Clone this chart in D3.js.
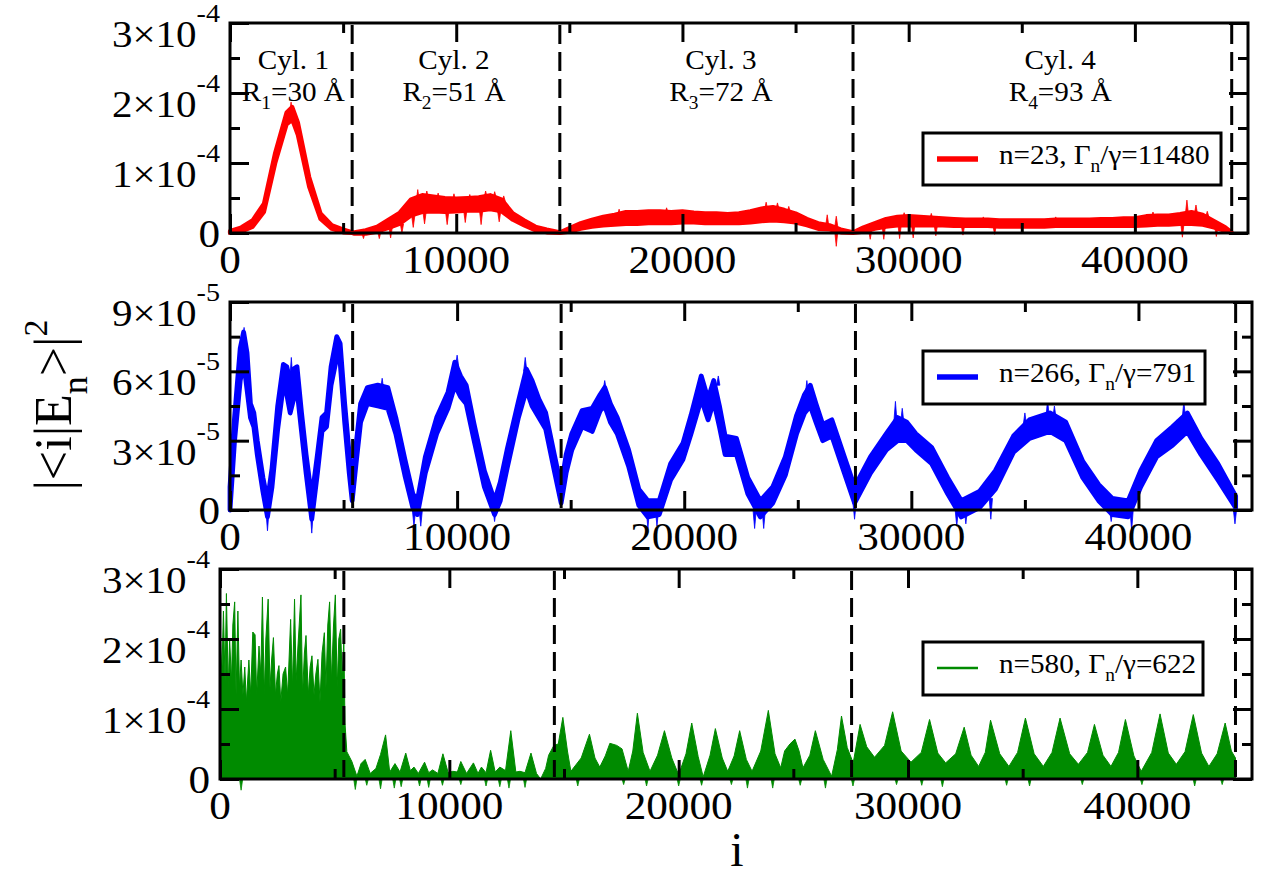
<!DOCTYPE html>
<html><head><meta charset="utf-8">
<script src="https://cdn.jsdelivr.net/npm/d3@7"></script>
<style>
body{margin:0;background:#fff;}
svg text{font-family:"Liberation Serif","Times New Roman",serif;fill:#000;}
</style></head><body>
<svg id="chart" width="1268" height="878" font-family="Liberation Serif"></svg>
<script>
// ================= DATA (all probabilities in units of 1e-5) =================
const cylinderBounds = [5400, 14580, 27540, 44280];
const cylinderNames  = ["Cyl. 1", "Cyl. 2", "Cyl. 3", "Cyl. 4"];
const cylinderIndex  = ["1", "2", "3", "4"];
const cylinderRadii  = ["30", "51", "72", "93"];
const cylinderLabelX = [2800, 9900, 21700, 36700];

const xTicks      = [0, 10000, 20000, 30000, 40000];
const xMinorTicks = [5000, 15000, 25000, 35000];

const yTicksA      = [0, 10, 20, 30];
const yMinorA      = [5, 15, 25];
const yMantA       = ["0", "1×10", "2×10", "3×10"];
const yExpA        = ["", "-4", "-4", "-4"];
const yTicksB      = [0, 3, 6, 9];
const yMinorB      = [1.5, 4.5, 7.5];
const yMantB       = ["0", "3×10", "6×10", "9×10"];
const yExpB        = ["", "-5", "-5", "-5"];

const legendN      = ["n=23", "n=266", "n=580"];
const legendRatio  = ["11480", "791", "622"];

// --- n=23 (red): band lower/upper edges ---
const redX = [0,500,1000,1500,2000,2500,2750,3000,3500,4000,4500,5000,5400,
  5500,6000,6500,7000,7500,8000,8500,9000,9500,10000,10500,11000,11500,12000,12500,13000,13500,14000,14580,
  15000,15500,16000,16500,17000,17500,18000,18500,19000,19500,20000,20500,21000,21500,22000,22500,23000,23500,24000,24500,25000,25500,26000,26500,27000,27540,
  28000,28500,29000,29500,30000,30500,31000,31500,32000,32500,33000,33500,34000,34500,35000,35500,36000,36500,37000,37500,38000,38500,39000,39500,40000,40500,41000,41500,42000,42500,43000,43500,44000,44280];
const redHi = [0.3,0.8,1.8,4.2,11.5,17.2,18.0,15.8,8.0,2.8,1.1,0.5,0.1,
  0.1,0.4,0.9,1.9,2.9,4.8,5.4,5.2,5.0,4.9,5.0,5.1,5.4,4.8,2.8,1.8,0.9,0.5,0.1,
  0.7,1.4,1.9,2.3,2.6,3.0,3.0,3.1,3.1,3.0,3.1,2.9,2.8,2.8,2.7,2.8,3.1,3.5,3.7,3.3,2.8,2.0,1.4,1.1,0.5,0.1,
  0.8,1.4,2.0,2.3,2.4,2.3,2.2,2.1,2.0,1.9,1.9,1.9,1.8,1.8,1.8,1.8,1.8,1.9,1.9,1.9,1.9,2.0,2.0,2.1,2.1,2.4,2.5,2.5,2.7,3.0,2.6,1.7,0.8,0.1];
const redLo = [0,0.2,0.9,3.0,10.0,15.5,16.2,14.0,6.6,2.0,0.6,0.1,0,
  -0.1,-0.1,0.2,0.7,1.3,2.5,3.0,3.1,3.0,3.1,3.2,3.2,3.4,3.1,1.9,1.1,0.4,0.1,0,
  0.2,0.6,0.9,1.1,1.2,1.3,1.3,1.4,1.4,1.4,1.5,1.5,1.4,1.4,1.4,1.4,1.5,1.7,1.8,1.7,1.5,1.1,0.6,0.5,0.1,0,
  0.2,0.6,0.9,1.1,1.1,1.1,1.1,1.1,1.0,1.0,1.0,1.0,0.9,0.9,0.9,0.9,0.9,1.0,1.0,1.0,1.0,1.0,1.0,1.0,1.0,1.1,1.2,1.2,1.3,1.3,1.2,0.8,0.3,0];
// [x, base, tip]
const redSpikes = [[2700,17,18.7],[8300,4.5,6.2],[8700,5,6.0],[9200,4.8,5.7],[9900,4.6,5.6],[10600,4.7,5.5],
  [11300,5,6.0],[11700,5,5.9],[12100,4.5,5.3],[17200,2.5,3.4],[19300,2.8,3.6],[23700,3.3,4.4],[24200,3.4,4.3],
  [24700,3.0,3.8],[26400,1.0,2.6],[26800,0.8,2.4],[29800,2.1,2.9],[31000,2.0,2.8],[33300,1.7,2.3],[36500,1.7,2.3],
  [40800,2.2,3.0],[42300,2.6,4.7],[42700,2.7,4.0],[43200,2.3,3.1],
  [5900,0,-0.8],[6600,0.2,-0.8],[7100,0.7,-0.7],[7600,1.3,0.0],[8100,2.5,0.8],[8600,3.0,1.3],[9600,3.0,1.2],
  [10400,3.2,1.5],[11100,3.2,1.2],[11900,3.1,1.6],[26800,0.3,-1.9],[28300,0.4,-0.9],[28900,0.9,-0.9],[29600,1.1,-0.8],
  [30200,1.1,-0.7],[31200,1.1,-0.4],[32400,1.0,-0.3],[33800,1.0,-0.2],[42100,1.3,-0.6],[43600,0.8,-0.5]];

// --- n=266 (blue) ---
const blueX = [0,200,450,600,750,900,1050,1200,1450,1650,1850,2100,2350,2500,2650,2800,2950,3150,3350,3600,
  3850,4050,4250,4450,4700,4850,5050,5250,5380,5550,5750,6050,6500,6950,7300,7700,8050,8250,8600,9100,
  9600,9900,10150,10400,10750,11200,11650,11900,12200,12700,13050,13300,13600,13900,14300,14580,14800,15050,15500,15950,
  16300,16500,16750,17050,17550,18000,18400,18900,19400,19950,20300,20750,21050,21300,21550,21800,22300,22800,23350,23900,
  24450,24950,25300,25550,25800,26100,26500,27050,27500,28200,28900,29400,29800,30200,30900,31600,32200,33000,33700,34500,
  35200,36100,36800,37550,38250,38850,39550,40100,40800,41500,42150,42750,43500,44280];
const blueLo = [0.0,3.0,5.6,6.4,5.2,4.0,3.6,2.4,0.8,-0.3,1.0,3.5,5.4,5.0,4.2,4.8,5.2,3.4,1.6,-0.4,
  1.6,3.4,3.6,5.4,6.6,6.4,3.8,1.6,0.4,2.0,3.8,4.6,4.5,4.4,3.3,1.5,0.1,-0.2,1.6,3.3,
  4.4,5.4,4.9,4.6,3.0,1.0,-0.2,0.4,1.8,4.0,5.2,4.5,4.0,3.5,1.6,0.3,1.6,2.6,3.6,3.4,
  4.3,4.5,3.8,3.3,1.9,0.2,-0.3,-0.2,1.3,2.2,3.3,4.8,3.9,4.7,3.6,2.4,2.4,0.7,-0.3,0.3,
  1.5,3.3,4.2,4.5,3.8,3.0,3.2,1.6,0.3,1.6,2.6,3.0,3.0,2.6,2.0,0.7,-0.3,0.1,0.9,2.5,
  3.1,3.4,3.0,1.4,0.4,-0.2,-0.3,1.0,2.3,2.8,3.4,2.4,1.3,0.1];
const blueHi = [1.0,4.0,7.0,7.7,6.8,4.6,4.2,3.0,1.4,0.4,1.8,4.5,6.3,6.2,5.6,6.1,6.2,4.2,2.4,0.5,
  2.4,4.0,4.2,6.2,7.5,7.2,4.6,2.4,1.2,2.8,4.6,5.3,5.4,5.3,4.0,2.2,0.7,0.4,2.3,4.0,
  5.1,6.4,5.8,5.4,3.7,1.7,0.4,1.2,2.6,4.7,6.1,5.6,4.8,4.2,2.3,1.0,2.4,3.3,4.3,4.4,
  5.0,5.3,4.6,4.0,2.6,0.9,0.4,0.4,2.0,2.9,4.1,5.8,4.8,5.6,4.5,3.2,3.1,1.4,0.4,1.0,
  2.3,4.1,5.0,5.4,4.6,3.7,3.9,2.3,1.0,2.3,3.3,4.0,3.8,3.3,2.7,1.4,0.4,0.8,1.7,3.2,
  3.9,4.2,3.8,2.1,1.1,0.5,0.4,1.7,3.0,3.6,4.2,3.1,2.0,0.6];
const blueSpikes = [[620,7,7.9],[2700,5.6,6.6],[10000,6.2,6.7],[13000,6.0,6.6],[16500,5.2,5.6],[20000,2.9,3.3],
  [21500,5.4,5.8],[29300,3.8,4.7],[29600,3.8,4.4],[36000,4.0,4.8],[36300,4.0,4.5],[42000,4.0,4.7],
  [6700,5.2,5.7],[25400,5.0,5.6],[33900,1.5,2.0],[35000,3.7,4.2],[41700,3.4,3.9],
  [1650,0,-0.9],[3600,0,-1.0],[8100,0,-0.7],[8400,0,-0.7],[11650,0,-0.5],[18400,0,-0.8],[18800,0,-0.7],
  [23100,0,-0.8],[23500,0,-0.8],[27500,0.3,-0.4],[32000,0,-0.7],[32400,0,-0.6],[33500,0.5,-0.4],
  [38800,0,-0.5],[39700,0,-0.9],[44250,0,-0.6]];

// --- n=580 (green): upper envelope [x, value] ---
const greenPoints = [[0,22],[80,15],[150,24],[220,14],[280,26.5],[360,13],[420,20],[500,14],[560,22],[640,25.3],
  [700,12],[780,24],[850,13],[920,17],[1000,12],[1080,16],[1150,11],[1260,17],[1340,12],[1430,21],[1530,20.6],
  [1600,12],[1700,19],[1780,15],[1850,26],[1930,12],[2000,20],[2100,25.7],[2180,13],[2250,17],[2330,20.2],
  [2420,12],[2500,15],[2570,16.2],[2650,11],[2750,15],[2860,16],[2950,12],[3080,22.8],[3160,13],[3250,25.7],
  [3320,14],[3400,19],[3530,26.3],[3600,12],[3680,18],[3750,20.5],[3850,12],[3930,16],[4010,17.6],[4100,12],
  [4180,15],[4270,17.1],[4360,11],[4450,18],[4550,20.9],[4620,13],[4700,22],[4780,25.3],[4860,14],[4950,22],
  [5030,26.3],[5110,13],[5180,20],[5260,21.4],[5330,14],[5400,20],[5450,8],[5530,3.9],[5750,2.5],[5970,0.4],
  [6150,2.2],[6330,2.8],[6550,0.8],[6800,1.5],[7000,3.5],[7220,6.3],[7400,1.0],[7630,2.2],[7850,1.0],[8100,3.7],
  [8300,1.2],[8460,1.7],[8650,0.8],[8920,2.4],[9100,0.9],[9270,1.3],[9500,0.8],[9720,3.6],[9950,0.9],[10150,1.1],
  [10350,1.0],[10500,2.5],[10750,0.8],[11050,2.3],[11250,0.8],[11400,1.7],[11600,0.9],[11800,4.1],[12000,1.0],
  [12200,1.7],[12450,1.2],[12680,6.9],[12900,1.0],[13080,1.1],[13300,0.9],[13560,3.7],[13800,0.8],[13980,0],
  [14200,1.5],[14330,3.4],[14560,4.8],[14750,5.0],[14950,8.8],[15150,4.0],[15300,1.1],[15750,3.0],[16110,6.4],
  [16350,3.0],[16560,1.7],[16800,3.3],[17000,5.1],[17300,4.8],[17530,4.3],[17800,1.1],[18000,4.0],[18200,9.4],
  [18450,3.8],[18750,1.1],[19080,3.4],[19380,6.9],[19700,3.0],[20000,0.6],[20320,3.6],[20570,8.0],[20850,3.2],
  [21070,0.3],[21370,3.4],[21600,7.2],[21900,3.0],[22140,1.1],[22420,3.3],[22660,6.9],[22950,2.8],[23200,1.1],
  [23580,4.0],[23910,9.8],[24200,3.6],[24450,1.6],[24620,4.0],[24850,5.0],[25070,5.7],[25250,4.0],[25420,1.6],
  [25720,3.4],[25960,6.9],[26300,2.8],[26670,0.4],[26920,4.2],[27100,9.0],[27350,4.5],[27610,2.3],[27910,7.8],
  [28200,4.6],[28540,3.1],[28980,4.8],[29330,9.6],[29700,4.0],[30130,2.4],[30580,3.8],[30940,8.5],[31300,3.7],
  [31640,2.3],[32080,3.6],[32450,7.4],[32750,3.4],[33080,1.8],[33370,3.8],[33600,8.4],[34000,3.6],[34400,1.8],
  [34780,3.8],[35120,8.7],[35500,3.6],[35900,1.8],[36280,3.8],[36630,8.7],[37050,3.6],[37430,2.1],[37830,3.8],
  [38130,7.8],[38500,3.4],[38850,1.8],[39180,3.8],[39480,8.5],[39850,3.3],[40170,1.1],[40630,3.8],[40990,9.3],
  [41350,3.7],[41700,2.1],[42080,3.9],[42440,9.2],[42800,3.7],[43120,1.8],[43480,3.6],[43830,8.0],[44100,4.0],
  [44280,3.0]];
// downward excursions below zero [x, value]
const greenDips = [[920,-1.6],[5900,-1.5],[6400,-0.9],[7000,-1.4],[7600,-1.3],[7900,-1.1],[8700,-1.0],[9100,-1.2],
  [9700,-0.9],[10500,-0.8],[11600,-1.0],[12200,-1.1],[12600,-1.3],[13300,-1.2],[15600,-1.0],[17600,-0.8],
  [18600,-1.0],[20000,-1.0],[21000,-0.9],[22300,-0.8],[23000,-1.3],[24100,-1.3],[25300,-0.9],[26400,-1.3],
  [27600,-1.0],[29500,-0.8],[30600,-0.9],[31500,-1.1],[34300,-0.9],[35300,-1.0],[37600,-0.8],[40200,-0.8],
  [42500,-1.0],[43700,-0.8]];

// ================= LAYOUT / STYLE =================
const RED = "#ff0000", BLUE = "#0000ff", GREEN = "#008b00";
const STRETCH = 1.08;   // reference glyphs are slightly wider than Liberation Serif
const panels = [
  {left:230, right:1248, top:23,  bottom:233, ymax:30, yt:yTicksA, ym:yMinorA, mant:yMantA, exp:yExpA,
   legend:{x:923, y:133, w:298, h:52}, color:RED,   lw:5.5},
  {left:230, right:1252, top:302, bottom:510, ymax:9,  yt:yTicksB, ym:yMinorB, mant:yMantB, exp:yExpB,
   legend:{x:923, y:351, w:282, h:53}, color:BLUE,  lw:5.5},
  {left:220, right:1252, top:569, bottom:779, ymax:30, yt:yTicksA, ym:yMinorA, mant:yMantA, exp:yExpA,
   legend:{x:923, y:642, w:280, h:53}, color:GREEN, lw:2.5}
];

const svg = d3.select("#chart");
svg.append("rect").attr("width",1268).attr("height",878).attr("fill","#fff");

// text with slight horizontal stretch, anchored at (x,y)
function stext(g, x, y, size, anchor){
  return g.append("text").attr("transform",`translate(${x},${y}) scale(${STRETCH},1)`)
    .attr("font-size", size).attr("text-anchor", anchor || "start");
}

function band(g, x, y, X, LO, HI, color, sw){
  const pts = X.map((v,i)=>({x:v, lo:LO[i], hi:HI[i]}));
  g.append("path").datum(pts)
    .attr("d", d3.area().x(d=>x(d.x)).y0(d=>y(d.lo)).y1(d=>y(d.hi)))
    .attr("fill", color).attr("stroke", color).attr("stroke-width", sw).attr("stroke-linejoin","round");
}
function spikes(g, x, y, S, color){
  g.append("g").selectAll("path").data(S).join("path")
    .attr("d", s=>`M${x(s[0])-1.6},${y(s[1])}L${x(s[0])},${y(s[2])}L${x(s[0])+1.6},${y(s[1])}Z`)
    .attr("fill", color).attr("stroke", color).attr("stroke-width", 0.8);
}

const dataDrawers = [
  (g,x,y)=>{ band(g,x,y,redX,redLo,redHi,RED,4.2); spikes(g,x,y,redSpikes,RED); },
  (g,x,y)=>{ band(g,x,y,blueX,blueLo,blueHi,BLUE,4.8); spikes(g,x,y,blueSpikes,BLUE); },
  (g,x,y)=>{
    g.append("path").datum(greenPoints)
      .attr("d", d3.area().x(d=>x(d[0])).y0(y(0)).y1(d=>y(d[1])))
      .attr("fill", GREEN).attr("stroke", GREEN).attr("stroke-width", 1);
    spikes(g,x,y,greenDips.map(d=>[d[0],0,d[1]]),GREEN);
  }
];

panels.forEach((p, pi)=>{
  const x = d3.scaleLinear().domain([0,45000]).range([p.left,p.right]);
  const y = d3.scaleLinear().domain([0,p.ymax]).range([p.bottom,p.top]);
  const g = svg.append("g");

  dataDrawers[pi](g,x,y);

  // frame
  g.append("rect").attr("x",p.left).attr("y",p.top)
    .attr("width",p.right-p.left).attr("height",p.bottom-p.top)
    .attr("fill","none").attr("stroke","#000").attr("stroke-width",3);

  // ticks on all four sides (inward)
  const styleAxis = a => { a.select(".domain").remove(); a.selectAll("line").attr("stroke","#000").attr("stroke-width",3); a.selectAll("text").remove(); };
  const axes = [
    [d3.axisBottom(x).tickValues(xTicks).tickSize(-19), `translate(0,${p.bottom})`],
    [d3.axisBottom(x).tickValues(xMinorTicks).tickSize(-10), `translate(0,${p.bottom})`],
    [d3.axisTop(x).tickValues(xTicks).tickSize(-19), `translate(0,${p.top})`],
    [d3.axisTop(x).tickValues(xMinorTicks).tickSize(-10), `translate(0,${p.top})`],
    [d3.axisLeft(y).tickValues(p.yt).tickSize(-19), `translate(${p.left},0)`],
    [d3.axisLeft(y).tickValues(p.ym).tickSize(-10), `translate(${p.left},0)`],
    [d3.axisRight(y).tickValues(p.yt).tickSize(-19), `translate(${p.right},0)`],
    [d3.axisRight(y).tickValues(p.ym).tickSize(-10), `translate(${p.right},0)`]
  ];
  axes.forEach(([ax,tr])=> g.append("g").attr("transform",tr).call(ax).call(styleAxis));

  // dashed cylinder boundaries
  g.selectAll("line.dash").data(cylinderBounds).join("line").attr("class","dash")
    .attr("x1",d=>x(d)).attr("x2",d=>x(d)).attr("y1",p.top+2).attr("y2",p.bottom-2)
    .attr("stroke","#000").attr("stroke-width",3).attr("stroke-dasharray","19,8");

  // x tick labels
  xTicks.forEach(v=> stext(g, x(v), p.bottom+40, 40, "middle").text(String(v)));

  // y tick labels
  p.yt.forEach((v,i)=>{
    if(!p.exp[i]){
      stext(g, p.left-10, y(v)+14, 40, "end").text(p.mant[i]);
    } else {
      const t = stext(g, p.left-10, y(v)+24, 38, "end");
      t.append("tspan").text(p.mant[i]);
      t.append("tspan").attr("font-size",26).attr("dy",-25).text(p.exp[i]);
    }
  });

  // legend
  const L = p.legend;
  g.append("rect").attr("x",L.x).attr("y",L.y).attr("width",L.w).attr("height",L.h)
    .attr("fill","#fff").attr("stroke","#000").attr("stroke-width",3);
  g.append("line").attr("x1",L.x+14).attr("x2",L.x+55).attr("y1",L.y+26).attr("y2",L.y+26)
    .attr("stroke",p.color).attr("stroke-width",p.lw);
  const lt = stext(g, L.x+76, L.y+31, 27);
  lt.append("tspan").text(legendN[pi] + ", Γ");
  lt.append("tspan").attr("font-size",18).attr("dy",8).text("n");
  lt.append("tspan").attr("dy",-8).text("/γ=" + legendRatio[pi]);

  // cylinder labels (top panel only)
  if(pi===0){
    cylinderNames.forEach((nm,i)=>{
      stext(g, x(cylinderLabelX[i]), 69, 27, "middle").text(nm);
      const r = stext(g, x(cylinderLabelX[i]), 101, 27, "middle");
      r.append("tspan").text("R");
      r.append("tspan").attr("font-size",18).attr("dy",8).text(cylinderIndex[i]);
      r.append("tspan").attr("dy",-8).text("=" + cylinderRadii[i] + " Å");
    });
  }
});

// axis titles
const yt = svg.append("text").attr("transform","translate(71,405) rotate(-90)")
  .attr("text-anchor","middle").attr("font-size",52);
yt.append("tspan").text("|<i|E");
yt.append("tspan").attr("font-size",36).attr("dy",16).text("n");
yt.append("tspan").attr("dy",-16).text(">|");
yt.append("tspan").attr("font-size",34).attr("dy",-24).text("2");

svg.append("text").attr("x",737).attr("y",866).attr("text-anchor","middle").attr("font-size",48).text("i");
</script>
</body></html>
